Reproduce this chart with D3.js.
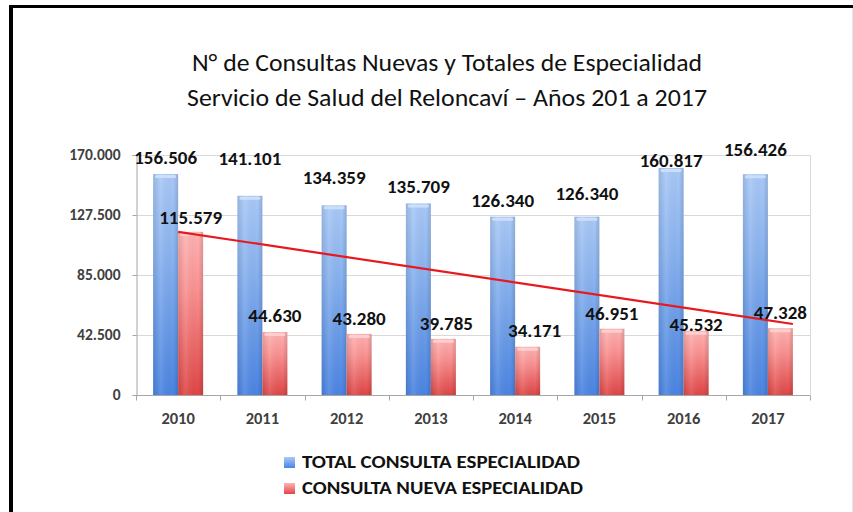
<!DOCTYPE html>
<html>
<head>
<meta charset="utf-8">
<script src="https://cdn.jsdelivr.net/npm/d3@7"></script>
<style>
  html, body { margin: 0; padding: 0; background: #fff; }
  svg { display: block; }
  text { font-family: Carlito, "Liberation Sans", Arial, sans-serif; }
</style>
</head>
<body>
<div id="chart"></div>
<script>
// ---------- data ----------
const years = ["2010", "2011", "2012", "2013", "2014", "2015", "2016", "2017"];
const totalConsultas = [156506, 141101, 134359, 135709, 126340, 126340, 160817, 156426];
const nuevasConsultas = [115579, 44630, 43280, 39785, 34171, 46951, 45532, 47328];
const trendValues = [115579, 50300];
const yTicks = [0, 42500, 85000, 127500, 170000];
const seriesNames = ["TOTAL CONSULTA ESPECIALIDAD", "CONSULTA NUEVA ESPECIALIDAD"];
const titleLines = ["N°  de Consultas Nuevas y Totales de Especialidad",
                    "Servicio de Salud del Reloncaví – Años 201 a 2017"];

// label placement (pixels above bar top) – layout only
const totalLabelGap = [10, 31, 21, 10, 10, 17, 1, 18];
const nuevaLabelGap = [8, 10, 9, 9, 10, 9, 0, 9];
const nuevaLabelDx = [0, 0, 0, 3, 7, 0, 0, 0];

// ---------- setup ----------
const W = 853, H = 512;
const svg = d3.select("#chart").append("svg").attr("width", W).attr("height", H);

const loc = d3.formatLocale({ decimal: ",", thousands: ".", grouping: [3], currency: ["$", ""] });
const fmt = loc.format(",d");

const x = d3.scaleBand().domain(years).range([136, 810]);
const barW = 25;
const sub = d3.scaleBand().domain(["total", "nueva"]).range([0, 2 * barW]);
const groupOff = (x.bandwidth() - 2 * barW) / 2;
const y = d3.scaleLinear().domain([0, 170000]).range([395, 155]);

// gradients
const defs = svg.append("defs");
function grad(id, stops, x1, y1, x2, y2) {
  const g = defs.append("linearGradient").attr("id", id)
    .attr("x1", x1).attr("y1", y1).attr("x2", x2).attr("y2", y2);
  stops.forEach(s => g.append("stop").attr("offset", s[0]).attr("stop-color", s[1]));
}
grad("gBlue", [[0, "#a9c9f7"], [0.35, "#8bb4f0"], [1, "#4a84e2"]], 0, 0, 0, 1);
grad("gRed", [[0, "#ffb3b3"], [0.35, "#fb9292"], [1, "#e04646"]], 0, 0, 0, 1);
grad("gShade", [[0, "rgba(0,0,0,0.10)"], [0.3, "rgba(255,255,255,0.10)"], [0.8, "rgba(0,0,0,0)"], [1, "rgba(0,0,0,0.14)"]], 0, 0, 1, 0);
grad("gLegBlue", [[0, "#a9c9f7"], [1, "#4a84e2"]], 0, 0, 0, 1);
grad("gLegRed", [[0, "#ffb3b3"], [1, "#e04646"]], 0, 0, 0, 1);

// frame
svg.append("rect").attr("x", 9).attr("y", 5).attr("width", 4).attr("height", H - 5).attr("fill", "#000");
svg.append("rect").attr("x", 9).attr("y", 5).attr("width", W - 9).attr("height", 3).attr("fill", "#000");
svg.append("line").attr("x1", 852.5).attr("x2", 852.5).attr("y1", 8).attr("y2", H).attr("stroke", "#e6e6e6");

// title
titleLines.forEach((t, i) => {
  svg.append("text").attr("x", 447).attr("y", 71 + i * 35)
    .attr("text-anchor", "middle").attr("font-size", 23.5).attr("fill", "#111")
    .attr("textLength", i === 0 ? 510 : 520).attr("lengthAdjust", "spacingAndGlyphs")
    .text(t);
});

// gridlines
svg.append("g").selectAll("line").data(yTicks.filter(d => d > 0)).join("line")
  .attr("x1", 136).attr("x2", 810).attr("y1", d => Math.round(y(d)) + 0.5).attr("y2", d => Math.round(y(d)) + 0.5)
  .attr("stroke", "#d9d9d9");
svg.append("line").attr("x1", 810.5).attr("x2", 810.5).attr("y1", y(170000)).attr("y2", y(0))
  .attr("stroke", "#d9d9d9");

// y axis
const yAxis = svg.append("g").attr("transform", "translate(136.5,0)")
  .call(d3.axisLeft(y).tickValues(yTicks).tickFormat(fmt).tickSize(4).tickPadding(12));
yAxis.select(".domain").attr("stroke", "#a6a6a6");
yAxis.selectAll(".tick line").attr("stroke", "#a6a6a6");
yAxis.selectAll(".tick text").attr("font-size", 15.5).attr("font-weight", "bold")
  .attr("fill", "#404040").attr("font-family", "Carlito, 'Liberation Sans', Arial, sans-serif");

// x axis
const xAxis = svg.append("g").attr("transform", "translate(0," + (y(0) + 0.5) + ")");
xAxis.append("line").attr("x1", 136).attr("x2", 810).attr("stroke", "#a6a6a6");
xAxis.selectAll("line.tk").data(d3.range(years.length + 1)).join("line").attr("class", "tk")
  .attr("x1", i => Math.round(136 + i * x.step()) + 0.5).attr("x2", i => Math.round(136 + i * x.step()) + 0.5)
  .attr("y1", 0).attr("y2", 5).attr("stroke", "#a6a6a6");
xAxis.selectAll("text").data(years).join("text")
  .attr("x", d => x(d) + x.bandwidth() / 2).attr("y", 28)
  .attr("text-anchor", "middle").attr("font-size", 16.5).attr("font-weight", "bold").attr("fill", "#404040")
  .text(d => d);

// bars
const rows = years.map((yr, i) => ({ yr, i, total: totalConsultas[i], nueva: nuevasConsultas[i] }));
const series = [
  { key: "total", fill: "url(#gBlue)", hi: "#cfe1fb", gap: totalLabelGap, dx: years.map(() => 0) },
  { key: "nueva", fill: "url(#gRed)", hi: "#ffd0d0", gap: nuevaLabelGap, dx: nuevaLabelDx }
];
series.forEach(s => {
  const g = svg.append("g");
  const bx = d => x(d.yr) + groupOff + sub(s.key);
  g.selectAll("rect.bar").data(rows).join("rect").attr("class", "bar")
    .attr("x", bx).attr("y", d => y(d[s.key])).attr("width", sub.bandwidth())
    .attr("height", d => y(0) - y(d[s.key])).attr("fill", s.fill);
  g.selectAll("rect.shade").data(rows).join("rect").attr("class", "shade")
    .attr("x", bx).attr("y", d => y(d[s.key])).attr("width", sub.bandwidth())
    .attr("height", d => y(0) - y(d[s.key])).attr("fill", "url(#gShade)");
  g.selectAll("rect.hi").data(rows).join("rect").attr("class", "hi")
    .attr("x", d => bx(d) + 2).attr("y", d => y(d[s.key]) + 1).attr("width", sub.bandwidth() - 4)
    .attr("height", 3).attr("rx", 1.5).attr("fill", s.hi).attr("opacity", 0.9);
});

// trend line
const trendPts = [
  [x(years[0]) + x.bandwidth() / 2, y(trendValues[0])],
  [x(years[years.length - 1]) + groupOff + sub("nueva") + sub.bandwidth(), y(trendValues[1])]
];
svg.append("path").attr("d", d3.line()(trendPts)).attr("stroke", "#e8191e").attr("stroke-width", 2.2).attr("fill", "none");

// value labels
series.forEach(s => {
  svg.append("g").selectAll("text").data(rows).join("text")
    .attr("x", d => x(d.yr) + groupOff + sub(s.key) + sub.bandwidth() / 2 + s.dx[d.i])
    .attr("y", d => y(d[s.key]) - s.gap[d.i])
    .attr("text-anchor", "middle").attr("font-size", 19).attr("font-weight", "bold").attr("fill", "#111")
    .text(d => fmt(d[s.key]));
});

// legend
const legFills = ["url(#gLegBlue)", "url(#gLegRed)"];
const legLen = [278, 281];
seriesNames.forEach((n, i) => {
  const gy = 468 + i * 26;
  svg.append("rect").attr("x", 284).attr("y", gy - 11).attr("width", 11).attr("height", 11)
    .attr("fill", legFills[i]);
  svg.append("text").attr("x", 302).attr("y", gy).attr("font-size", 19).attr("font-weight", "bold")
    .attr("fill", "#111").attr("textLength", legLen[i]).attr("lengthAdjust", "spacingAndGlyphs").text(n);
});
</script>
</body>
</html>
